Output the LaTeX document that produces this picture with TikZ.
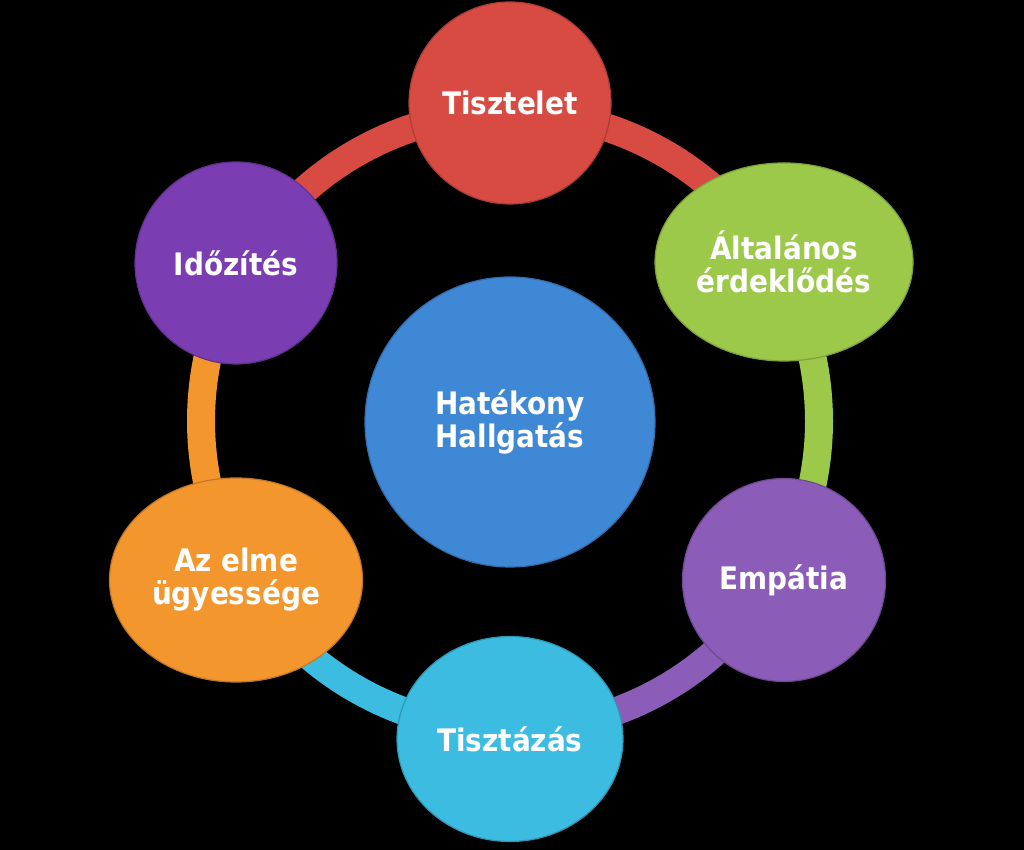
\documentclass[tikz,border=0pt]{standalone}
\usepackage{fontspec}
\newfontfamily\lblfont{DejaVu Sans Condensed Bold}
\usepackage{tikz}
\usetikzlibrary{shapes.geometric}

\definecolor{tiszred}{HTML}{D84B42}
\definecolor{altgreen}{HTML}{9CC94A}
\definecolor{emppurple}{HTML}{8B5CB8}
\definecolor{idoviolet}{HTML}{7A3DB2}
\definecolor{tiszcyan}{HTML}{3BBCE0}
\definecolor{elmeorange}{HTML}{F4962E}
\definecolor{hatblue}{HTML}{3F88D6}

\tikzset{
  bubble/.style={circle, fill=#1, draw=#1!80!black, line width=1.2pt,
    text=white, align=center, inner sep=0pt,
    font=\lblfont\fontsize{31}{33}\selectfont},
  oval/.style={bubble=#1, ellipse},
  seg/.style={draw=#1, line width=28pt},
}

\begin{document}
\begin{tikzpicture}[x=1pt, y=1pt]

  \fill[black] (0,0) rectangle (1024,850);
  \useasboundingbox (0,0) rectangle (1024,850);

  \newcommand\R{309};
  \coordinate (mid) at (510,429);

  %% points of the ring
  \foreach \a/\n in {90/top, 30/upright, -30/lowright, -90/bottom, -150/lowleft, 150/upleft}
    \coordinate (ring-\n) at ([shift={(\a:\R)}]mid);

  %% ring
  \draw[seg=tiszred]    (ring-upleft)   arc[start angle=150,  end angle=90,   radius=\R];
  \draw[seg=tiszred]    (ring-top)      arc[start angle=90,   end angle=30,   radius=\R];
  \draw[seg=altgreen]   (ring-upright)  arc[start angle=30,   end angle=-30,  radius=\R];
  \draw[seg=emppurple]  (ring-lowright) arc[start angle=-30,  end angle=-90,  radius=\R];
  \draw[seg=tiszcyan]   (ring-bottom)   arc[start angle=-90,  end angle=-150, radius=\R];
  \draw[seg=elmeorange] (ring-lowleft)  arc[start angle=-150, end angle=-210, radius=\R];

  %% bubbles
  \node[bubble=hatblue, minimum size=290pt] (hat) at (510,428) {Hatékony\\Hallgatás};
  \node[bubble=tiszred, minimum size=202pt] (tisztelet) at (510,747) {Tisztelet};
  \node[oval=altgreen, minimum width=258pt, minimum height=198pt] (altalanos) at (784,588) {Általános\\érdeklődés};
  \node[bubble=emppurple, minimum size=203pt] (empatia) at (784,270) {Empátia};
  \node[oval=tiszcyan, minimum width=226pt, minimum height=205pt] (tisztazas) at (510,111) {Tisztázás};
  \node[oval=elmeorange, minimum width=253pt, minimum height=204pt] (elme) at (236,270) {Az elme\\ügyessége};
  \node[bubble=idoviolet, minimum size=202pt] (idozites) at (236,587) {Időzítés};

\end{tikzpicture}
\end{document}
